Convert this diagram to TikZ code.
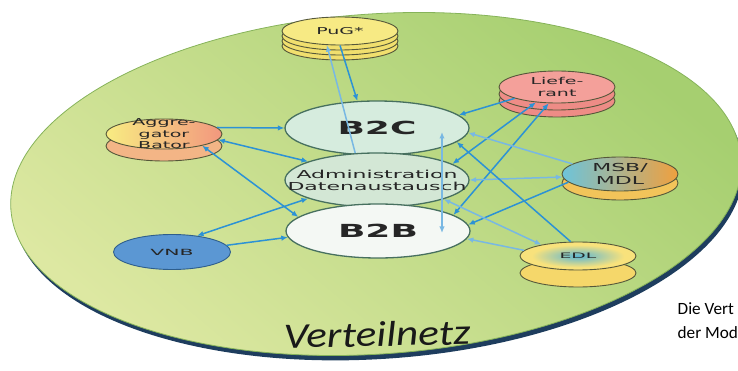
\documentclass[tikz,border=0pt]{standalone}
\usepackage{fontspec}
\usepackage{graphicx}
\setmainfont{DejaVu Sans}
\newfontfamily\capfont{Carlito}
\usetikzlibrary{shapes.geometric, arrows.meta, shadows}

\definecolor{bgpale}{HTML}{DDE8A2}
\definecolor{bggreen}{HTML}{A6CF70}
\definecolor{rimnavy}{HTML}{1E3D5E}
\definecolor{rimgreen}{HTML}{86B35A}
\definecolor{diskline}{HTML}{55573A}
\definecolor{pugyellow}{HTML}{F7EA84}
\definecolor{puglayer}{HTML}{F1DF6E}
\definecolor{aggyellow}{HTML}{F8EC82}
\definecolor{aggsalmon}{HTML}{F2977E}
\definecolor{agglayer}{HTML}{F3B586}
\definecolor{liefpink}{HTML}{F4A09A}
\definecolor{lieflayer}{HTML}{EE8C86}
\definecolor{msbteal}{HTML}{6DC4DA}
\definecolor{msbyellow}{HTML}{F6E47C}
\definecolor{msborange}{HTML}{F0A03E}
\definecolor{msblayer}{HTML}{F2C45A}
\definecolor{edlteal}{HTML}{5DB6D3}
\definecolor{edlyellow}{HTML}{F8E27C}
\definecolor{edlorange}{HTML}{F2BE5A}
\definecolor{edllayer}{HTML}{F5D76A}
\definecolor{vnbblue}{HTML}{5B97D3}
\definecolor{vnbline}{HTML}{2E5E8C}
\definecolor{b2cfill}{HTML}{D6ECDE}
\definecolor{adminfill}{HTML}{D3E7D5}
\definecolor{b2bfill}{HTML}{F4F8F4}
\definecolor{hubline}{HTML}{47705F}
\definecolor{linkblue}{HTML}{2C92D5}
\definecolor{linkpale}{HTML}{78B8E3}

\pgfdeclareradialshading{edlspot}{\pgfpoint{0bp}{0bp}}{%
  color(0bp)=(edlteal); color(9bp)=(edlteal!55!edlyellow); color(20bp)=(edlyellow);
  color(40bp)=(edlyellow); color(50bp)=(edlorange)}

\newcommand{\wide}[2][2]{\makebox[0pt]{\scalebox{#1}[1]{#2}}}

\begin{document}
\begin{tikzpicture}[x=1pt,y=-1pt,
  >={Latex[length=6.5pt,width=5.5pt]},
  disk/.style={ellipse, draw=diskline, line width=0.9pt, inner sep=0pt, minimum width=116pt,
    align=center, text=black!85, font=\fontsize{9.5}{11.5}\selectfont},
  layer/.style 2 args={general shadow={shadow xshift=0pt, shadow yshift=-#1, fill=#2, draw=diskline, line width=0.9pt}},
  hub/.style={ellipse, draw=hubline, line width=1.3pt, inner sep=0pt, minimum width=184pt,
    minimum height=54pt, align=center, text=black!85},
  link/.style={draw=linkblue, line width=1.5pt},
  linkpale/.style={draw=linkpale, line width=1.5pt}]
\useasboundingbox (0,0) rectangle (738,371);

%Shape: Ellipse [Verteilnetz]
\fill[rimnavy, rotate around={4:(376,184)}] (378,189) ellipse [x radius=366, y radius=170];
\shade[bottom color=bgpale, top color=bggreen, shading angle=-40, rotate around={4:(376,184)}] (376,184) ellipse [x radius=366, y radius=170];
\draw[rimgreen, line width=0.8pt, rotate around={4:(376,184)}] (376,184) ellipse [x radius=366, y radius=170];

% Hubs
\node[hub, fill=b2cfill, font=\fontsize{18}{20}\selectfont\bfseries] (b2c) at (377,128) {\wide{B2C}};
\node[hub, fill=adminfill, font=\fontsize{11}{12}\selectfont] (admin) at (377,180) {\wide{Administration}\\\wide{Datenaustausch}};
\node[hub, fill=b2bfill, font=\fontsize{18}{20}\selectfont\bfseries] (b2b) at (378,231) {\wide{B2B}};

% Disks
\node[disk, minimum height=28pt, fill=pugyellow, layer={15pt}{puglayer}, layer={10pt}{puglayer}, layer={5pt}{puglayer}] (pug) at (340,31) {\wide{PuG*}};
\node[disk, minimum height=30pt, inner ysep=-6pt, left color=aggyellow, right color=aggsalmon, layer={12pt}{agglayer}] (agg) at (164,134) {\wide{Aggre-}\\\wide{gator}\\\wide{Bator}};
\node[disk, minimum height=32pt, fill=liefpink, layer={14pt}{lieflayer}, layer={7pt}{lieflayer}] (lief) at (557,87) {\wide{Liefe-}\\\wide{rant}};
\node[disk, minimum height=34pt, left color=msbteal, middle color=msbyellow, right color=msborange, layer={9pt}{msblayer}, font=\fontsize{11}{13}\selectfont] (msb) at (620,174) {\wide{MSB/}\\\wide{MDL}};
\node[disk, minimum height=28pt, shading=edlspot, layer={17pt}{edllayer}, font=\fontsize{7.5}{9}\selectfont] (edl) at (578,256) {\wide[2.5]{EDL}};
\node[disk, minimum height=35pt, minimum width=117pt, fill=vnbblue, draw=vnbline, font=\fontsize{8.5}{10}\selectfont] (vnb) at (172,252) {\wide[2.4]{VNB}};

%Straight Lines
\draw[link, ->] (agg.7) -- (b2c.180);
\draw[link, <->] (agg.354) -- (admin.165);
\draw[link, <->] (agg.343) -- (b2b.170);
\draw[link, <->] (vnb.33) -- (admin.195);
\draw[link, ->] (vnb.7) -- (b2b.184);
\draw[linkpale, ->] (admin.129) -- (pug.227);
\draw[link, ->] (pug.270) -- (b2c.126);
\draw[link, ->] (lief.195) -- (b2c.9);
\draw[link, <->] (lief.216) -- (admin.12);
\draw[link, <->] (lief.243) -- (b2b.12);
\draw[linkpale, ->] (msb.168) -- (b2c.357);
\draw[linkpale, <->] (msb.183) -- (admin.0);
\draw[link, ->] (msb.189) -- (b2b.4);
\draw[link, ->] (edl.117) -- (b2c.350);
\draw[linkpale, <->] (edl.163) -- (admin.344);
\draw[linkpale, ->] (edl.174) -- (b2b.355);
\draw[linkpale, <->] ([xshift=65pt,yshift=-4pt]b2c.center) -- ([xshift=64pt,yshift=-2pt]b2b.center);

% Text Node
\node[font=\capfont\itshape\fontsize{36}{40}\selectfont, xscale=1.2, rotate=1.5, text=black!90] (netz) at (377,334) {Verteilnetz};
% Text Node
\node[font=\capfont\fontsize{17.2}{24}\selectfont, anchor=north west, align=left, inner sep=0pt] (cap) at (677.5,302) {Die Vert\\der Mod};

\end{tikzpicture}
\end{document}
